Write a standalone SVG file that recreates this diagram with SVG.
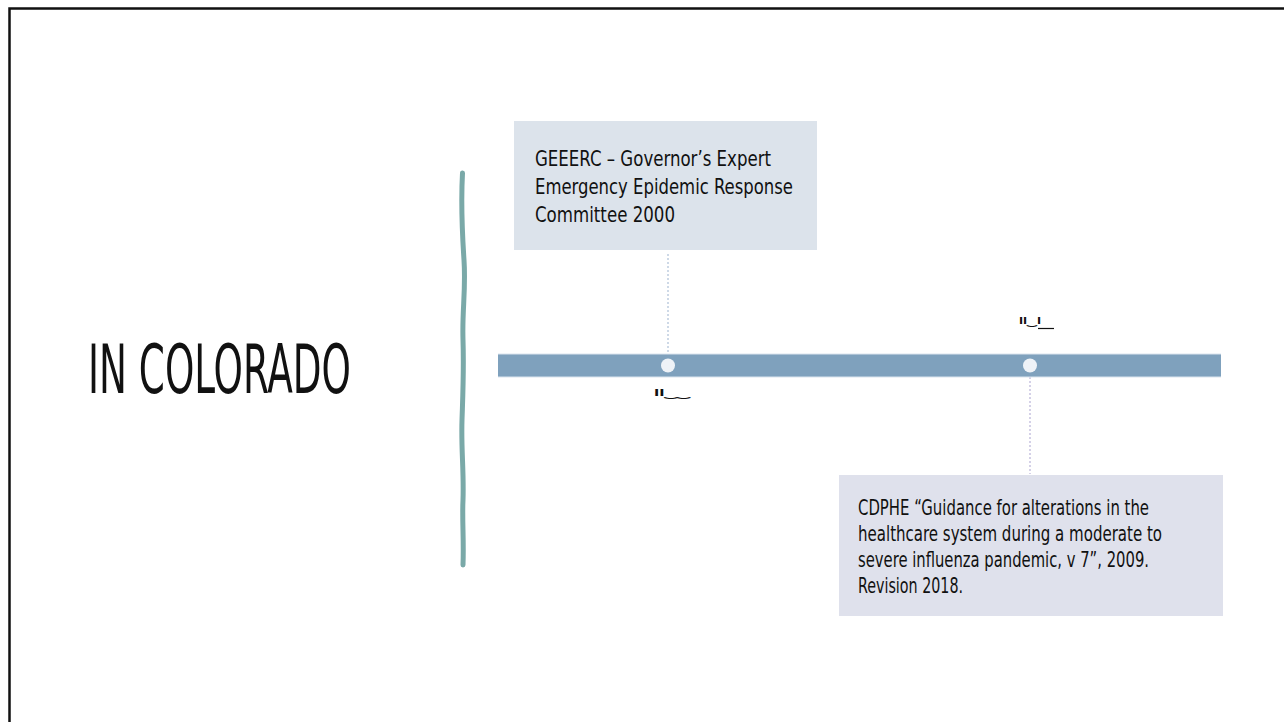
<svg xmlns="http://www.w3.org/2000/svg" width="1284" height="722" viewBox="0 0 1284 722">
  <style>
    .txt { font-family: "DejaVu Sans Condensed", "DejaVu Sans", sans-serif; font-stretch: condensed; fill: #111; }
    .box-text { font-size: 22px; }
    .title { font-size: 68px; font-weight: 300; }
    .tick { font-family: "DejaVu Sans", sans-serif; font-size: 12px; font-weight: bold; fill: #111; }
    .leader { fill: none; stroke-width: 1; stroke-dasharray: 2 2; }
  </style>

  <rect x="0" y="0" width="1284" height="722" fill="#ffffff"/>
  <!-- slide frame -->
  <rect x="9.5" y="8.5" width="1300" height="760" fill="none" stroke="#111" stroke-width="2.5"/>

  <!-- heading -->
  <g id="heading">
    <text class="txt title" x="88" y="393" textLength="263" lengthAdjust="spacingAndGlyphs">IN COLORADO</text>
  </g>

  <!-- wavy divider -->
  <g id="divider">
    <path d="M462.5 173 C461 200 462 230 464 260 C466 290 462 310 463 340 C464 370 463 390 462 420 C461 450 464 470 463 500 C462 520 464 540 463 565"
          fill="none" stroke="#7aa9a8" stroke-width="5" stroke-linecap="round"/>
  </g>

  <!-- connectors -->
  <g id="connectors">
    <line class="leader" x1="668" y1="254" x2="668" y2="354" stroke="#9db3cf"/>
    <line class="leader" x1="1030" y1="377" x2="1030" y2="474" stroke="#aaa3d0"/>
  </g>

  <!-- timeline bar -->
  <g id="timeline">
    <rect x="498" y="354" width="723" height="23" fill="#7fa1bd"/>
    <line x1="498" y1="354" x2="1221" y2="354" stroke="#dbe4ee" stroke-width="1"/>
    <line x1="498" y1="377" x2="1221" y2="377" stroke="#dbe4ee" stroke-width="1"/>
  </g>

  <g id="marker-2000">
    <circle cx="668" cy="365.5" r="7" fill="#eef2f7"/>
    <text class="tick" x="654" y="396" textLength="36" lengthAdjust="spacingAndGlyphs">ıı‿‿</text>
  </g>

  <g id="marker-2009">
    <circle cx="1030" cy="365.5" r="7" fill="#eef2f7"/>
    <text class="tick" x="1019" y="324" textLength="22" lengthAdjust="spacingAndGlyphs">ıı‿ı</text>
    <line x1="1038" y1="328.5" x2="1054" y2="328.5" stroke="#111" stroke-width="1.2"/>
  </g>

  <!-- event boxes -->
  <g id="event-geeerc">
    <rect x="514" y="121" width="303" height="129" fill="#dce3eb"/>
    <text class="txt box-text" x="535" y="166" textLength="236" lengthAdjust="spacingAndGlyphs">GEEERC – Governor’s Expert</text>
    <text class="txt box-text" x="535" y="194" textLength="258" lengthAdjust="spacingAndGlyphs">Emergency Epidemic Response</text>
    <text class="txt box-text" x="535" y="222" textLength="140" lengthAdjust="spacingAndGlyphs">Committee 2000</text>
  </g>

  <g id="event-cdphe">
    <rect x="839" y="475" width="384" height="141" fill="#dfe1ec"/>
    <text class="txt box-text" x="858" y="515" textLength="291" lengthAdjust="spacingAndGlyphs">CDPHE “Guidance for alterations in the</text>
    <text class="txt box-text" x="858" y="541" textLength="304" lengthAdjust="spacingAndGlyphs">healthcare system during a moderate to</text>
    <text class="txt box-text" x="858" y="567" textLength="291" lengthAdjust="spacingAndGlyphs">severe influenza pandemic, v 7”, 2009.</text>
    <text class="txt box-text" x="858" y="593" textLength="105" lengthAdjust="spacingAndGlyphs">Revision 2018.</text>
  </g>
</svg>
